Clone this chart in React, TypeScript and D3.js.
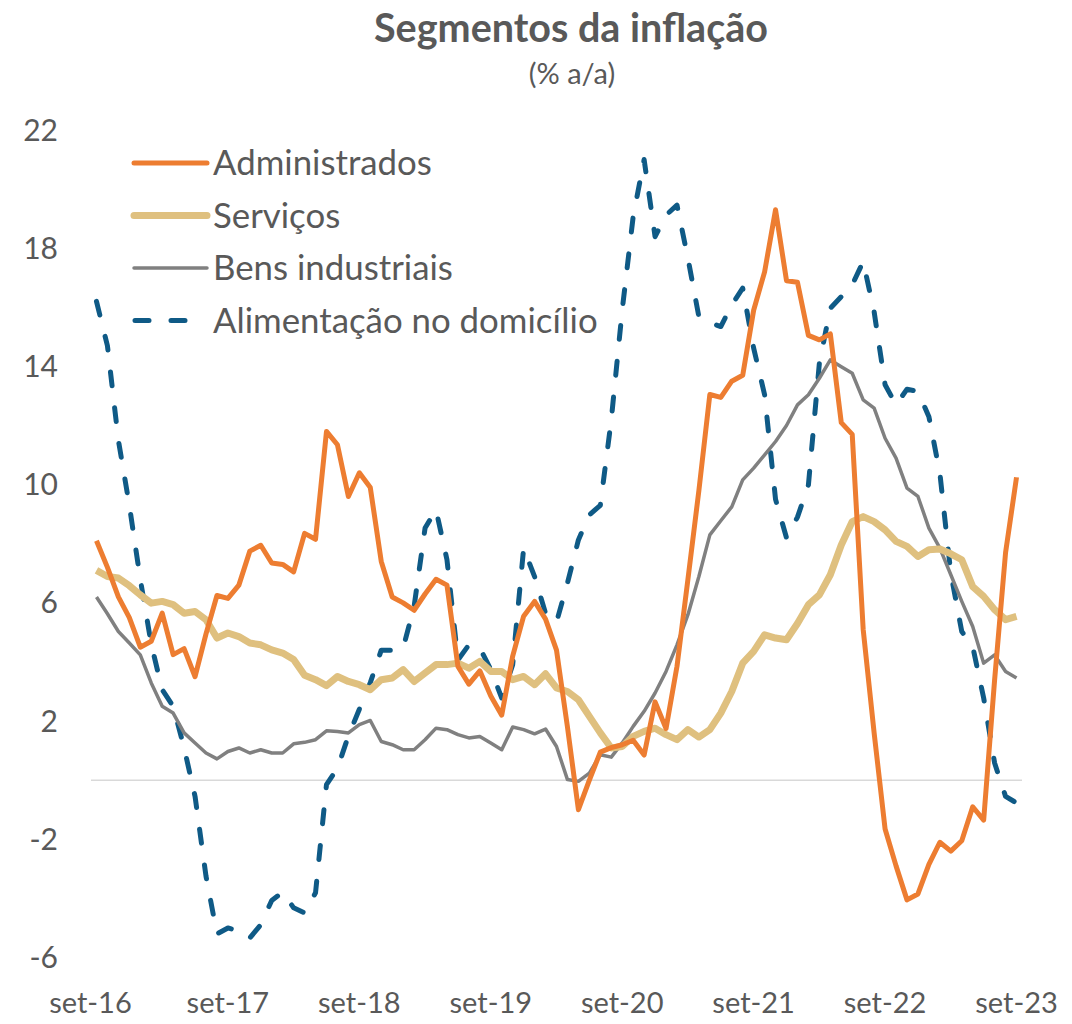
import React from "react";
import * as d3 from "d3";

const months: Date[] = d3.timeMonth.range(new Date(2016, 8, 1), new Date(2023, 9, 1));
const tickLabels = ["set-16", "set-17", "set-18", "set-19", "set-20", "set-21", "set-22", "set-23"];
const yTicks = [22, 18, 14, 10, 6, 2, -2, -6];

const administrados = [
  8.1, 7.2, 6.2, 5.5, 4.5, 4.7, 5.65, 4.25, 4.45, 3.5, 4.95, 6.25,
  6.15, 6.6, 7.75, 7.95, 7.35, 7.3, 7.05, 8.35, 8.15, 11.8, 11.35, 9.6,
  10.4, 9.9, 7.4, 6.2, 6.0, 5.75, 6.3, 6.8, 6.6, 3.85, 3.25, 3.7,
  2.85, 2.2, 4.2, 5.55, 6.05, 5.45, 4.4, 1.8, -1.0, 0.0, 0.95, 1.1,
  1.2, 1.35, 0.85, 2.65, 1.75, 3.85, 6.8, 9.8, 13.05, 12.95, 13.5, 13.7,
  15.9, 17.2, 19.3, 16.9, 16.85, 15.05, 14.9, 15.1, 12.1, 11.7, 5.1, 1.6,
  -1.65, -2.9, -4.05, -3.85, -2.85, -2.1, -2.4, -2.05, -0.9, -1.35, 3.4, 7.7,
  10.25,
];

const servicos = [
  7.1, 6.89, 6.84, 6.58, 6.27, 5.99, 6.05, 5.94, 5.65, 5.71, 5.43, 4.81,
  4.98, 4.86, 4.64, 4.58, 4.41, 4.3, 4.08, 3.55, 3.4, 3.2, 3.51, 3.34,
  3.23, 3.06, 3.4, 3.46, 3.74, 3.34, 3.63, 3.91, 3.91, 3.96, 3.79, 4.02,
  3.68, 3.68, 3.4, 3.51, 3.23, 3.6, 3.12, 3.0, 2.72, 2.16, 1.6, 1.09,
  1.14, 1.48, 1.65, 1.76, 1.54, 1.37, 1.71, 1.46, 1.71, 2.27, 3.0, 3.96,
  4.36, 4.92, 4.81, 4.75, 5.3, 5.94, 6.27, 6.95, 7.96, 8.75, 8.92, 8.75,
  8.47, 8.08, 7.91, 7.57, 7.8, 7.82, 7.66, 7.46, 6.55, 6.22, 5.77, 5.43,
  5.54,
];

const bensIndustriais = [
  6.2, 5.63, 5.03, 4.64, 4.24, 3.29, 2.5, 2.27, 1.6, 1.26, 0.92, 0.72,
  0.97, 1.09, 0.92, 1.03, 0.92, 0.92, 1.23, 1.28, 1.37, 1.67, 1.65, 1.6,
  1.88, 2.02, 1.31, 1.2, 1.03, 1.03, 1.37, 1.76, 1.71, 1.54, 1.43, 1.48,
  1.26, 1.03, 1.8, 1.71, 1.57, 1.73, 1.14, 0.02, -0.04, 0.24, 0.86, 0.78,
  1.26, 1.82, 2.33, 2.95, 3.68, 4.58, 5.6, 6.89, 8.3, 8.78, 9.25, 10.16,
  10.56, 11.01, 11.46, 12.0, 12.7, 13.04, 13.6, 14.22, 13.99, 13.77, 12.87, 12.59,
  11.57, 10.9, 9.88, 9.6, 8.53, 7.85, 6.95, 6.05, 5.2, 3.96, 4.24, 3.68,
  3.46,
];

const alimentacao = [
  16.2, 14.7, 11.5, 9.3, 6.8, 4.6, 3.06, 2.5, 1.1, -0.55, -3.25, -5.2,
  -5.0, -5.1, -5.34, -4.89, -4.07, -3.79, -4.32, -4.49, -3.81, -0.15, 0.4, 1.5,
  2.4, 3.3, 4.4, 4.4, 4.47, 5.88, 8.53, 9.15, 7.46, 4.07, 4.58, 4.47,
  3.74, 2.78, 3.91, 7.85, 6.89, 5.65, 5.35, 6.67, 8.13, 8.98, 9.3, 12.19,
  15.91, 19.07, 21.0, 18.39, 19.12, 19.46, 17.66, 15.68, 15.48, 15.35, 16.08, 16.65,
  14.62, 13.04, 9.5, 8.2, 8.9, 9.99, 14.11, 15.97, 16.36, 16.76, 17.55, 15.85,
  13.38, 12.7, 13.23, 13.15, 12.3, 10.39, 7.0, 5.03, 4.52, 2.78, 0.58, -0.55,
  -0.77,
];

const seriesNames = ["Administrados", "Serviços", "Bens industriais", "Alimentação no domicílio"];

const FONT = "Lato, 'Open Sans', sans-serif";
const TEXT = "#595959";

export default function App() {
  const W = 1072;
  const H = 1024;
  const keys = months.map((_, i) => String(i));
  const x = d3.scalePoint<string>().domain(keys).range([91, 1022]).padding(0.5);
  const y = d3.scaleLinear().domain([-6, 22]).range([957.5, 130]);

  const mk = (vals: number[]) =>
    d3
      .line<number>()
      .x((_, i) => x(String(i)) as number)
      .y((v) => y(v))(vals) as string;

  const series = [
    { name: seriesNames[0], vals: administrados, color: "#ED7D31", width: 5, dash: undefined as string | undefined, cap: "butt" },
    { name: seriesNames[1], vals: servicos, color: "#DFC07F", width: 7, dash: undefined, cap: "butt" },
    { name: seriesNames[2], vals: bensIndustriais, color: "#808080", width: 3.5, dash: undefined, cap: "butt" },
    { name: seriesNames[3], vals: alimentacao, color: "#0F5A86", width: 5, dash: "14 22", cap: "round" },
  ];
  const drawOrder = [3, 2, 1, 0];

  const tickIdx = months.map((m, i) => (m.getMonth() === 8 ? i : -1)).filter((i) => i >= 0);

  return (
    <svg width={W} height={H} style={{ position: "absolute", left: 0, top: 0, background: "#fff" }}>
      <text x={571} y={42} textAnchor="middle" fontFamily={FONT} fontWeight={700} fontSize={39.5} fill={TEXT}>
        Segmentos da inflação
      </text>
      <text x={572} y={84} textAnchor="middle" fontFamily={FONT} fontSize={29} fill={TEXT}>
        (% a/a)
      </text>

      {yTicks.map((t) => (
        <text key={t} x={58} y={y(t)} dy="0.35em" textAnchor="end" fontFamily={FONT} fontSize={30} fill={TEXT}>
          {t}
        </text>
      ))}

      <line x1={91} x2={1022} y1={y(0)} y2={y(0)} stroke="#D9D9D9" strokeWidth={1.5} />

      {drawOrder.map((k) => {
        const s = series[k];
        return (
          <path
            key={s.name}
            d={mk(s.vals)}
            fill="none"
            stroke={s.color}
            strokeWidth={s.width}
            strokeDasharray={s.dash}
            strokeLinecap={s.cap as any}
            strokeLinejoin="round"
          />
        );
      })}

      {tickIdx.map((i, j) => (
        <text
          key={i}
          x={(x(String(i)) as number) - (j === 0 ? 6 : 0)}
          y={1013}
          textAnchor="middle"
          fontFamily={FONT}
          fontSize={29}
          fill={TEXT}
        >
          {tickLabels[j]}
        </text>
      ))}

      {series.map((s, j) => {
        const cy = 163 + j * 52.5;
        return (
          <g key={s.name}>
            <line
              x1={s.dash ? 135 : 134}
              x2={s.dash ? 205 : 207}
              y1={cy}
              y2={cy}
              stroke={s.color}
              strokeWidth={s.width}
              strokeDasharray={s.dash}
              strokeLinecap="round"
            />
            <text x={213} y={cy} dy="0.35em" fontFamily={FONT} fontSize={34.8} fill={TEXT}>
              {s.name}
            </text>
          </g>
        );
      })}
    </svg>
  );
}
